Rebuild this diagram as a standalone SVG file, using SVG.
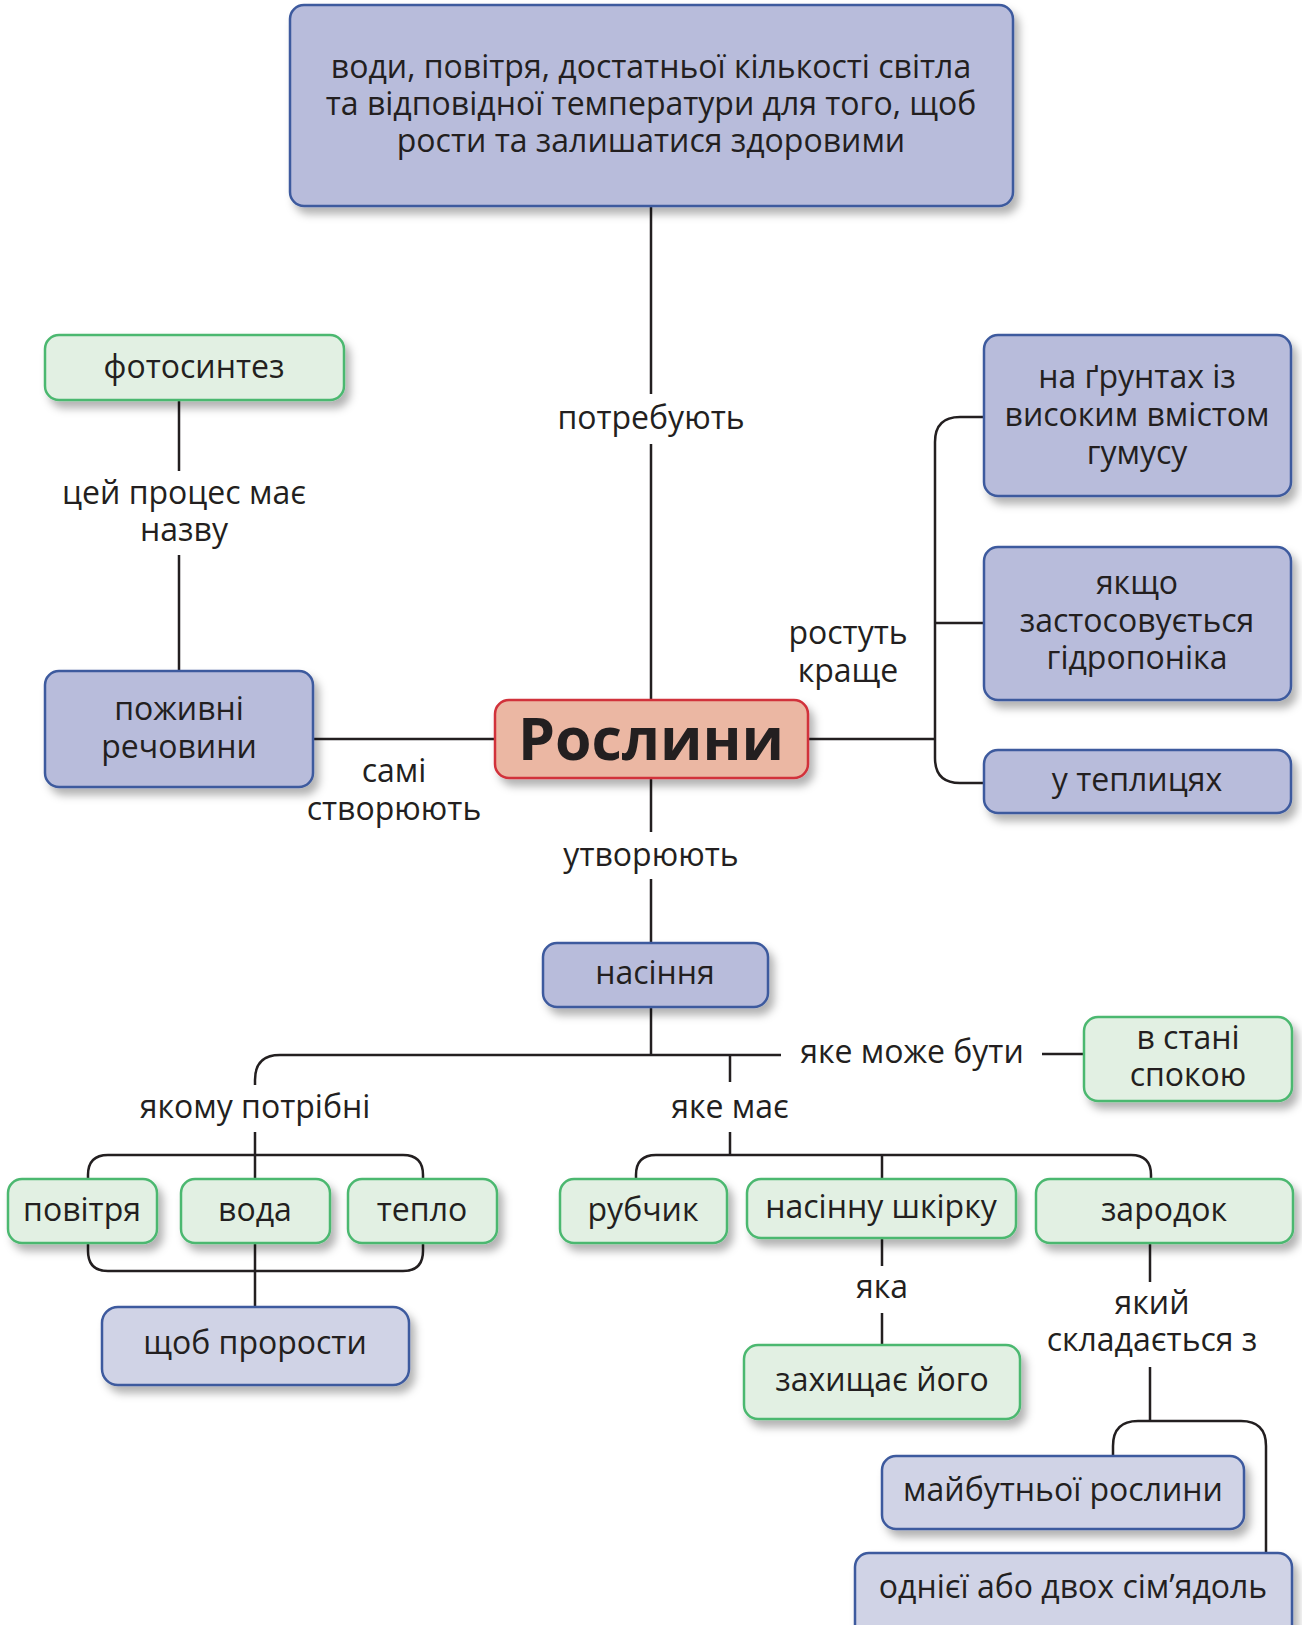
<svg xmlns="http://www.w3.org/2000/svg" width="1302" height="1625" viewBox="0 0 1302 1625">
<defs>
<filter id="sh" x="-10%" y="-20%" width="130%" height="160%">
<feDropShadow dx="5" dy="7" stdDeviation="4" flood-color="#000" flood-opacity="0.3"/>
</filter>
<style>
.b{fill:#b8bcdb;stroke:#3d5a9e;stroke-width:2.5;filter:url(#sh)}
.bl{fill:#d0d3e6;stroke:#3d5a9e;stroke-width:2.5;filter:url(#sh)}
.g{fill:#e2f0e3;stroke:#4cb870;stroke-width:2.5;filter:url(#sh)}
.r{fill:#ebb7a3;stroke:#d1303a;stroke-width:2.5;filter:url(#sh)}
text{font-family:"Open Sans","Noto Sans","DejaVu Sans",sans-serif;font-size:32px;fill:#231f20;text-anchor:middle}
.big{font-size:59px;font-weight:bold}
.c{fill:none;stroke:#231f20;stroke-width:2.5}
</style>
</defs>
<rect width="1302" height="1625" fill="#fff"/>

<g id="connectors">
<path class="c" d="M651,206 V394 M651,444 V701"/>
<path class="c" d="M651,777 V832 M651,879 V943"/>
<path class="c" d="M651,1007 V1055"/>
<path class="c" d="M781,1055 H280 Q255,1055 255,1080 V1085 M255,1132 V1307"/>
<path class="c" d="M730,1055 V1082 M730,1132 V1155"/>
<path class="c" d="M1042,1054 H1084"/>
<path class="c" d="M88,1179 V1175 Q88,1155 108,1155 H403 Q423,1155 423,1175 V1179"/>
<path class="c" d="M88,1243 V1251 Q88,1271 108,1271 H403 Q423,1271 423,1251 V1243"/>
<path class="c" d="M636,1179 V1175 Q636,1155 656,1155 H1131 Q1151,1155 1151,1175 V1179 M882,1155 V1179"/>
<path class="c" d="M882,1238 V1266 M882,1313 V1345"/>
<path class="c" d="M1150,1243 V1282 M1150,1367 V1421"/>
<path class="c" d="M1113,1456 V1446 Q1113,1421 1138,1421 H1241 Q1266,1421 1266,1446 V1553"/>
<path class="c" d="M179,400 V471 M179,555 V671"/>
<path class="c" d="M313,739 H495"/>
<path class="c" d="M808,739 H935 M984,417 H960 Q935,417 935,442 V758 Q935,783 960,783 H984 M935,623 H984"/>
</g>

<g id="labels">
<text x="651" y="429">потребують</text>
<text x="184" y="504">цей процес має</text>
<text x="184" y="541">назву</text>
<text x="394" y="782">самі</text>
<text x="394" y="820">створюють</text>
<text x="848" y="644">ростуть</text>
<text x="848" y="682">краще</text>
<text x="651" y="866">утворюють</text>
<text x="912" y="1063">яке може бути</text>
<text x="730" y="1118">яке має</text>
<text x="255" y="1118">якому потрібні</text>
<text x="882" y="1298">яка</text>
<text x="1152" y="1314">який</text>
<text x="1152" y="1351">складається з</text>
</g>

<g id="n-top"><rect class="b" x="290" y="5" width="723" height="201" rx="14"/>
<text x="651" y="78">води, повітря, достатньої кількості світла</text>
<text x="651" y="115">та відповідної температури для того, щоб</text>
<text x="651" y="152">рости та залишатися здоровими</text></g>

<g id="n-roslyny"><rect class="r" x="495" y="700" width="313" height="78" rx="14"/>
<text class="big" x="651" y="760">Рослини</text></g>

<g id="n-fotosyntez"><rect class="g" x="45" y="335" width="299" height="65" rx="14"/>
<text x="194" y="378">фотосинтез</text></g>

<g id="n-pozhyvni"><rect class="b" x="45" y="671" width="268" height="116" rx="14"/>
<text x="179" y="720">поживні</text>
<text x="179" y="758">речовини</text></g>

<g id="n-gruntah"><rect class="b" x="984" y="335" width="307" height="161" rx="14"/>
<text x="1137" y="388">на ґрунтах із</text>
<text x="1137" y="426">високим вмістом</text>
<text x="1137" y="464">гумусу</text></g>

<g id="n-gidroponika"><rect class="b" x="984" y="547" width="307" height="153" rx="14"/>
<text x="1137" y="594">якщо</text>
<text x="1137" y="632">застосовується</text>
<text x="1137" y="669">гідропоніка</text></g>

<g id="n-teplytsi"><rect class="b" x="984" y="750" width="307" height="63" rx="14"/>
<text x="1137" y="791">у теплицях</text></g>

<g id="n-nasinnia"><rect class="b" x="543" y="943" width="225" height="64" rx="14"/>
<text x="655" y="984">насіння</text></g>

<g id="n-spokoiu"><rect class="g" x="1084" y="1017" width="208" height="84" rx="14"/>
<text x="1188" y="1049">в стані</text>
<text x="1188" y="1086">спокою</text></g>

<g id="n-povitria"><rect class="g" x="8" y="1179" width="149" height="64" rx="14"/>
<text x="82" y="1221">повітря</text></g>

<g id="n-voda"><rect class="g" x="181" y="1179" width="149" height="64" rx="14"/>
<text x="255" y="1221">вода</text></g>

<g id="n-teplo"><rect class="g" x="348" y="1179" width="149" height="64" rx="14"/>
<text x="422" y="1221">тепло</text></g>

<g id="n-prorosty"><rect class="bl" x="102" y="1307" width="307" height="78" rx="16"/>
<text x="255" y="1354">щоб прорости</text></g>

<g id="n-rubchyk"><rect class="g" x="560" y="1179" width="167" height="64" rx="14"/>
<text x="643" y="1221">рубчик</text></g>

<g id="n-shkirka"><rect class="g" x="747" y="1179" width="269" height="59" rx="14"/>
<text x="881" y="1218">насінну шкірку</text></g>

<g id="n-zarodok"><rect class="g" x="1036" y="1179" width="257" height="64" rx="14"/>
<text x="1164" y="1221">зародок</text></g>

<g id="n-zakhyshchaie"><rect class="g" x="744" y="1345" width="276" height="74" rx="14"/>
<text x="882" y="1391">захищає його</text></g>

<g id="n-maibutnoi"><rect class="bl" x="882" y="1456" width="362" height="73" rx="14"/>
<text x="1063" y="1501">майбутньої рослини</text></g>

<g id="n-simiadol"><rect class="bl" x="855" y="1553" width="437" height="90" rx="14"/>
<text x="1073" y="1598">однієї або двох сім’ядоль</text></g>
</svg>
